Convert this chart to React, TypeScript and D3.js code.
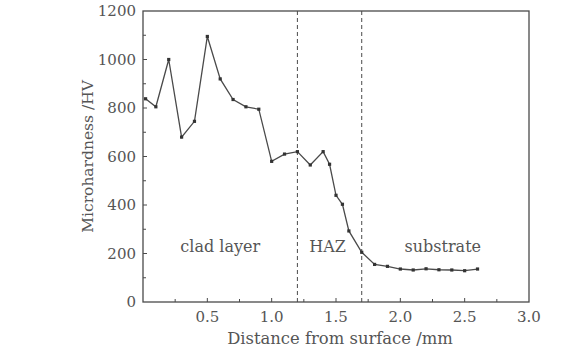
import React from 'react';
import * as d3 from 'd3';

const distance = [0.02, 0.1, 0.2, 0.3, 0.4, 0.5, 0.6, 0.7, 0.8, 0.9, 1.0, 1.1, 1.2, 1.3, 1.4, 1.45, 1.5, 1.55, 1.6, 1.7, 1.8, 1.9, 2.0, 2.1, 2.2, 2.3, 2.4, 2.5, 2.6];
const hardness = [838, 805, 1000, 680, 745, 1095, 920, 835, 805, 795, 580, 610, 620, 565, 620, 568, 440, 403, 293, 205, 155, 147, 136, 132, 137, 133, 132, 129, 136];
const boundaries = [1.2, 1.7];
const zoneLabels = ['clad layer', 'HAZ', 'substrate'];
const zoneCenters = [0.6, 1.435, 2.33];
const xTicks = [0.5, 1.0, 1.5, 2.0, 2.5, 3.0];
const yTicks = [0, 200, 400, 600, 800, 1000, 1200];

const W = 575, H = 354;
const left = 143, right = 529, top = 11, bottom = 302;
const font = '"DejaVu Serif", serif';
const txt = '#555';
const ink = '#4a4a4a';

export default function App() {
  const x = d3.scaleLinear().domain([0, 3]).range([left, right]);
  const y = d3.scaleLinear().domain([0, 1200]).range([bottom, top]);
  const pts = distance.map((d, i) => [d, hardness[i]] as [number, number]);
  const line = d3.line<[number, number]>().x(d => x(d[0])).y(d => y(d[1]));
  const xMinor = d3.range(0.25, 3, 0.25);
  const yMinor = d3.range(100, 1200, 100);

  return (
    <svg width={W} height={H} style={{ position: 'absolute', left: 0, top: 0, background: '#fff' }}>
      <rect x={left} y={top} width={right - left} height={bottom - top} fill="none" stroke={ink} strokeWidth={1.3} />
      {xMinor.map(t => (
        <line key={'xt' + t} x1={x(t)} x2={x(t)} y1={bottom} y2={bottom - (Math.abs(t * 2 - Math.round(t * 2)) < 1e-6 ? 4 : 3)} stroke={ink} />
      ))}
      {yMinor.map(t => (
        <line key={'yt' + t} x1={left} x2={left + (t % 200 === 0 ? 4 : 3)} y1={y(t)} y2={y(t)} stroke={ink} />
      ))}
      {xTicks.map(t => (
        <text key={'xl' + t} x={x(t)} y={bottom + 20} textAnchor="middle" fontFamily={font} fontSize={15} fill={txt}>{t.toFixed(1)}</text>
      ))}
      {yTicks.map(t => (
        <text key={'yl' + t} x={left - 7} y={y(t) + 5} textAnchor="end" fontFamily={font} fontSize={15} fill={txt}>{t}</text>
      ))}
      {boundaries.map(b => (
        <line key={'b' + b} x1={x(b)} x2={x(b)} y1={top} y2={bottom} stroke={ink} strokeDasharray="4,3" strokeWidth={1} />
      ))}
      <path d={line(pts) || ''} fill="none" stroke={ink} strokeWidth={1.3} />
      {pts.map((p, i) => (
        <rect key={'p' + i} x={x(p[0]) - 1.6} y={y(p[1]) - 1.6} width={3.2} height={3.2} fill="#333" />
      ))}
      {zoneLabels.map((l, i) => (
        <text key={l} x={x(zoneCenters[i])} y={y(205)} textAnchor="middle" fontFamily={font} fontSize={16} fill={txt}>{l}</text>
      ))}
      <text x={340} y={H - 10} textAnchor="middle" fontFamily={font} fontSize={16.4} fill={txt}>Distance from surface /mm</text>
      <text transform={`translate(93,${(top + bottom) / 2}) rotate(-90)`} textAnchor="middle" fontFamily={font} fontSize={15.5} fill={txt}>Microhardness /HV</text>
    </svg>
  );
}
